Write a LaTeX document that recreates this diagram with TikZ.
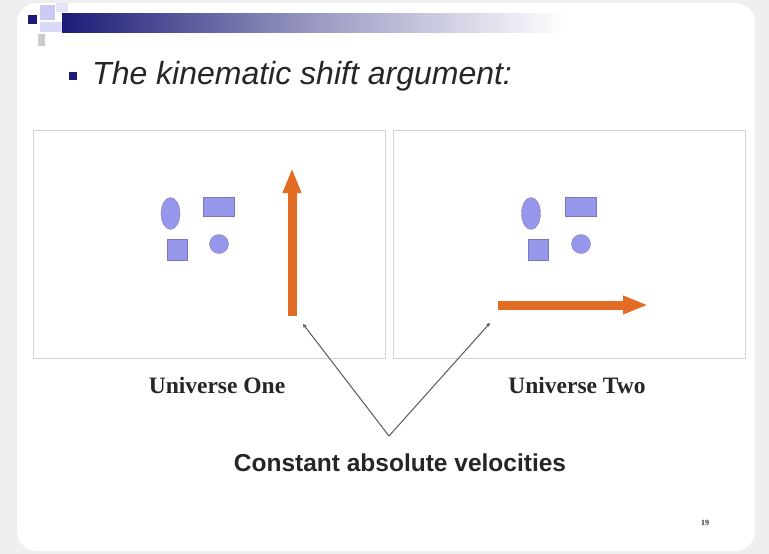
\documentclass[tikz,border=0pt]{standalone}
\usepackage{fontspec}
\setmainfont{Liberation Serif}
\setsansfont{Liberation Sans}
\usepackage{xcolor}
\usepackage{tikz}
\usetikzlibrary{positioning,arrows.meta,shapes.geometric,calc}
\definecolor{slidegray}{RGB}{239,239,239}
\definecolor{slidenavy}{RGB}{28,28,120}
\definecolor{shapeblue}{RGB}{150,150,235}
\definecolor{velorange}{RGB}{226,108,36}
\definecolor{framegray}{RGB}{210,210,210}
\tikzset{
  panel/.style={draw=framegray, line width=0.8pt, minimum width=352pt, minimum height=228pt, inner sep=0pt},
  blob/.style={fill=shapeblue, draw=shapeblue!80!black, line width=0.3pt, inner sep=0pt},
  vel/.style={-{Triangle[length=25pt, width=17pt]}, line width=9pt, draw=velorange},
  pointer/.style={-{Stealth[length=4pt, width=4pt]}, line width=1pt, draw=gray!70!black},
  caption/.style={font=\fontsize{23.5}{26}\selectfont\bfseries, text=black!85},
}

\begin{document}
\begin{tikzpicture}[x=1pt, y=-1pt]
    \useasboundingbox (0,0) rectangle (769,554);
    \fill[slidegray] (0,0) rectangle (769,554);
    \fill[white, rounded corners=20pt] (17,3) rectangle (755,551);
    % header bar
    \shade[left color=slidenavy, right color=white, middle color=slidenavy!45] (62,13) rectangle (565,32);
    \fill[slidenavy] (28,15) rectangle (37,24);
    \fill[shapeblue!50] (40,5) rectangle (55,20);
    \fill[shapeblue!35] (40,22) rectangle (62,32);
    \fill[gray!40] (38,34) rectangle (45,46);
    \fill[shapeblue!25] (56,3) rectangle (68,12);
    % title
    \node[fill=slidenavy, minimum size=8pt, inner sep=0pt] (bullet) at (73,76) {};
    \node[anchor=west, font=\sffamily\itshape\fontsize{32}{36}\selectfont, text=black!85, inner sep=0pt] (title) at (92,76) {The kinematic shift argument:};
    % panels
    \node[panel] (uone) at (209,244) {};
    \node[panel] (utwo) at (569.5,244) {};
    % shapes in universe one
    \node[blob, ellipse, minimum width=19pt, minimum height=32pt] (egg1) at (170.5,213.5) {};
    \node[blob, rectangle, minimum width=31pt, minimum height=19pt] (bar1) at (219,207) {};
    \node[blob, rectangle, minimum width=20pt, minimum height=21pt] (sq1) at (177,250) {};
    \node[blob, circle, minimum size=19pt] (dot1) at (219,244) {};
    % shapes in universe two
    \node[blob, ellipse, minimum width=19pt, minimum height=32pt] (egg2) at (531,213.5) {};
    \node[blob, rectangle, minimum width=31pt, minimum height=19pt] (bar2) at (581,207) {};
    \node[blob, rectangle, minimum width=20pt, minimum height=21pt] (sq2) at (538,250) {};
    \node[blob, circle, minimum size=19pt] (dot2) at (581,244) {};
    % velocities
    \coordinate (vonetail) at (292,316);
    \coordinate (vonehead) at (292,168);
    \coordinate (vtwotail) at (498,305);
    \coordinate (vtwohead) at (648,305);
    \draw[vel] (vonetail) -- (vonehead);
    \draw[vel] (vtwotail) -- (vtwohead);
    % captions
    \node[caption] (capone) at (217,385) {Universe One};
    \node[caption] (captwo) at (577,385) {Universe Two};
    \node[font=\sffamily\bfseries\fontsize{24.5}{28}\selectfont, text=black!85] (note) at (400,463) {Constant absolute velocities};
    \coordinate (meet) at (389,436);
    \coordinate (vonetip) at (303,324);
    \coordinate (vtwotip) at (490,323);
    \draw[pointer] (meet) -- (vonetip);
    \draw[pointer] (meet) -- (vtwotip);
    \node[font=\bfseries\fontsize{8}{9}\selectfont, text=black!80] (pageno) at (705,523) {19};
  \end{tikzpicture}
\end{document}
